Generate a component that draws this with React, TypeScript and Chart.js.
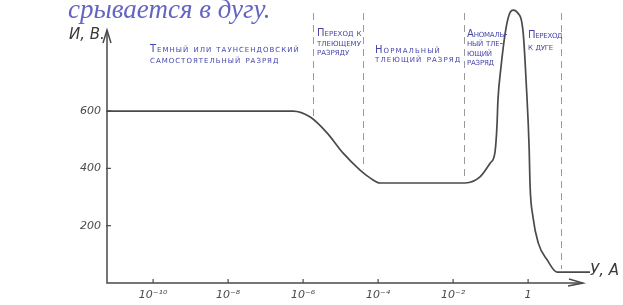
import { useEffect, useRef } from "react";
import { Chart, registerables } from "chart.js";
Chart.register(...registerables);

// Current, A (log scale) and voltage, V
const currentA = [5.9e-12, 5.4e-7, 1.55e-6, 4.4e-6, 1.17e-5, 3.3e-5, 6.2e-5, 1.12e-4, 2.1e-2, 5.2e-2, 9.8e-2, 0.131, 0.148, 0.157, 0.189, 0.245, 0.31, 0.4, 0.51, 0.74, 0.89, 1.07, 1.12, 1.35, 1.86, 3.24, 5.9, 44.7];
const voltageV = [600, 600, 579, 523, 453, 394, 366, 349, 349, 370, 419, 457, 551, 638, 753, 872, 935, 952, 945, 872, 698, 464, 349, 230, 140, 80, 38, 38];

const xTicks = [1e-10, 1e-8, 1e-6, 1e-4, 1e-2, 1];
const xTickLabels = ["10⁻¹⁰", "10⁻⁸", "10⁻⁶", "10⁻⁴", "10⁻²", "1"];
const yTicks = [200, 400, 600];

// region boundaries (current, A)
const boundaries = [1.86e-6, 4.0e-5, 1.95e-2, 7.6];
const regionLabels = [
  ["Темный или таунсендовский", "самостоятельный разряд"],
  ["Переход к", "тлеющему", "разряду"],
  ["Нормальный", "тлеющий разряд"],
  ["Аномаль-", "ный тле-", "ющий", "разряд"],
  ["Переход", "к дуге"],
];
const topText = "срывается в дугу.";
const yTitle = "И, В.";
const xTitle = "У, А";

function curveAt(x: number): number {
  const lx = Math.log10(x);
  for (let i = 0; i < currentA.length - 1; i++) {
    const a = Math.log10(currentA[i]);
    const b = Math.log10(currentA[i + 1]);
    if (lx >= a && lx <= b) {
      const t = (lx - a) / (b - a);
      return voltageV[i] + t * (voltageV[i + 1] - voltageV[i]);
    }
  }
  return voltageV[voltageV.length - 1];
}

export default function App() {
  const ref = useRef<HTMLCanvasElement>(null);
  useEffect(() => {
    document.body.style.margin = "0";
    const canvas = ref.current!;
    const labelLayout = [
      { x: 150, ys: [49, 60], sp: 1.0 },
      { x: 317, ys: [33, 43, 52], sp: 0 },
      { x: 375, ys: [50, 59], sp: 1.1 },
      { x: 467, ys: [34, 43, 53, 62], sp: -0.2 },
      { x: 528, ys: [35, 47], sp: -0.3 },
    ];
    const decor = {
      id: "decor",
      afterDraw(chart: any) {
        const ctx = chart.ctx as CanvasRenderingContext2D;
        const xs = chart.scales.x;
        const ys = chart.scales.y;
        const ca = chart.chartArea;
        const x0 = ca.left;
        const y0 = ca.bottom;
        ctx.save();
        // dashed boundaries
        ctx.strokeStyle = "#9a9a9a";
        ctx.lineWidth = 1;
        ctx.setLineDash([7, 5]);
        boundaries.forEach((b) => {
          const px = Math.round(xs.getPixelForValue(b)) + 0.5;
          const py = ys.getPixelForValue(curveAt(b)) - 3;
          ctx.beginPath();
          ctx.moveTo(px, 13);
          ctx.lineTo(px, py);
          ctx.stroke();
        });
        ctx.setLineDash([]);
        // axes
        ctx.strokeStyle = "#4a4a4a";
        ctx.lineWidth = 1.5;
        ctx.beginPath();
        ctx.moveTo(x0, 30);
        ctx.lineTo(x0, y0);
        ctx.lineTo(583, y0);
        ctx.stroke();
        ctx.beginPath();
        ctx.moveTo(x0 - 4, 43);
        ctx.lineTo(x0, 30);
        ctx.lineTo(x0 + 4, 43);
        ctx.moveTo(569, y0 - 4);
        ctx.lineTo(583, y0);
        ctx.lineTo(568, y0 + 3);
        ctx.stroke();
        ctx.lineWidth = 1.2;
        xTicks.forEach((t) => {
          const px = xs.getPixelForValue(t);
          ctx.beginPath();
          ctx.moveTo(px, y0 - 4);
          ctx.lineTo(px, y0);
          ctx.stroke();
        });
        yTicks.forEach((t) => {
          const py = ys.getPixelForValue(t);
          ctx.beginPath();
          ctx.moveTo(x0 - 1, py);
          ctx.lineTo(x0 + 4, py);
          ctx.stroke();
        });
        // axis titles
        ctx.fillStyle = "#3a3a3a";
        ctx.font = "italic 15px 'DejaVu Sans'";
        ctx.textBaseline = "middle";
        ctx.textAlign = "left";
        ctx.fillText(yTitle, 69, 35);
        ctx.fillText(xTitle, 590, 271);
        // region labels
        ctx.fillStyle = "#4646aa";
        ctx.font = "small-caps 10px 'DejaVu Sans'";
        regionLabels.forEach((lines, i) => {
          const l = labelLayout[i];
          (ctx as any).letterSpacing = l.sp + "px";
          lines.forEach((s, j) => ctx.fillText(s, l.x, l.ys[j]));
        });
        (ctx as any).letterSpacing = "0px";
        // top handwritten text
        ctx.fillStyle = "#6464c4";
        ctx.font = "italic 27px 'Liberation Serif'";
        ctx.textBaseline = "alphabetic";
        ctx.fillText(topText, 68, 18);
        ctx.restore();
      },
    };
    const chart = new Chart(canvas, {
      type: "line",
      data: {
        datasets: [
          {
            data: currentA.map((x, i) => ({ x, y: voltageV[i] })),
            borderColor: "#4a4a4a",
            borderWidth: 1.7,
            pointRadius: 0,
            cubicInterpolationMode: "monotone",
            fill: false,
          },
        ],
      },
      options: {
        animation: false,
        responsive: false,
        layout: { padding: { left: 0, top: 5, right: 33, bottom: 0 } },
        plugins: { legend: { display: false }, tooltip: { enabled: false } },
        scales: {
          x: {
            type: "logarithmic",
            min: 5.9e-12,
            max: 44.7,
            grid: { display: false, drawTicks: false },
            border: { display: false },
            afterBuildTicks: (s: any) => {
              s.ticks = xTicks.map((v) => ({ value: v }));
            },
            afterFit: (s: any) => {
              s.height = 22;
              s.paddingLeft = 0;
              s.paddingRight = 0;
            },
            ticks: {
              autoSkip: false,
              maxRotation: 0,
              padding: 6,
              color: "#4a4a4a",
              font: { family: "'DejaVu Sans'", style: "italic", size: 11 },
              callback: (_v: any, i: number) => xTickLabels[i],
            },
          },
          y: {
            min: 0,
            max: 970,
            grid: { display: false, drawTicks: false },
            border: { display: false },
            afterBuildTicks: (s: any) => {
              s.ticks = yTicks.map((v) => ({ value: v }));
            },
            afterFit: (s: any) => {
              s.width = 107;
              s.paddingTop = 0;
              s.paddingBottom = 0;
            },
            ticks: {
              padding: 6,
              color: "#4a4a4a",
              font: { family: "'DejaVu Sans'", style: "italic", size: 11 },
            },
          },
        },
      },
      plugins: [decor],
    } as any);
    return () => chart.destroy();
  }, []);
  return (
    <div style={{ position: "absolute", left: 0, top: 0, width: 623, height: 305, background: "#fff" }}>
      <canvas ref={ref} width={623} height={305} />
    </div>
  );
}
